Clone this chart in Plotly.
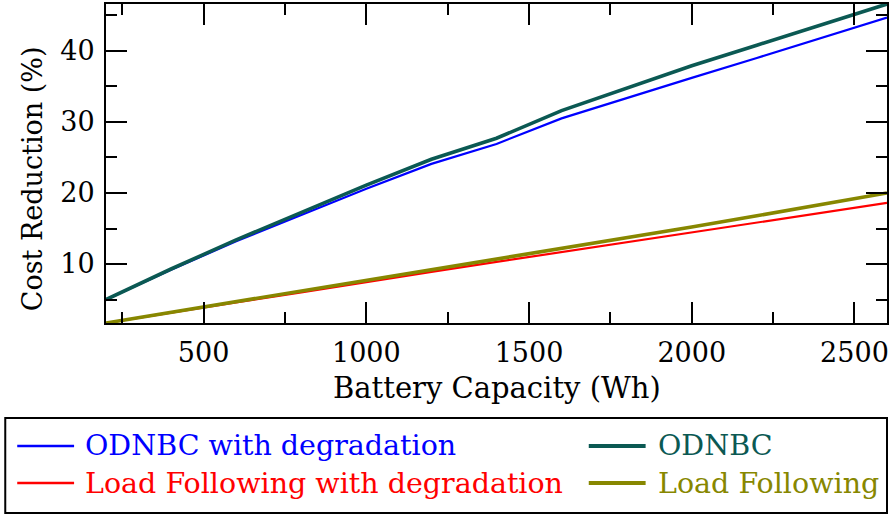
import plotly.graph_objects as go

# Battery capacity sweep (Wh)
capacity = [200, 400, 600, 800, 1000, 1200, 1400, 1600, 1800, 2000, 2200, 2400, 2600]

# Cost reduction (%) for each strategy
odnbc_deg = [5.0, 9.2, 13.2, 16.9, 20.6, 24.1, 26.9, 30.5, 33.4, 36.2, 39.0, 41.9, 44.7]
odnbc = [5.0, 9.3, 13.4, 17.3, 21.1, 24.75, 27.7, 31.6, 34.8, 37.9, 40.8, 43.7, 46.6]
lf_deg = [1.7, 3.2, 4.6, 6.0, 7.5, 8.9, 10.3, 11.7, 13.0, 14.4, 15.8, 17.2, 18.6]
lf = [1.7, 3.2, 4.7, 6.1, 7.7, 9.2, 10.7, 12.2, 13.7, 15.2, 16.8, 18.4, 20.0]

names = ["ODNBC with degradation", "ODNBC",
         "Load Following with degradation", "Load Following"]
series = [odnbc_deg, odnbc, lf_deg, lf]
colors = ["#0000ff", "#0b5953", "#ff0000", "#878700"]
widths = [2.2, 3.6, 2.2, 3.6]

W, H = 890, 514
L, R, T, B = 106, 889, 4, 323  # plot area in pixels
FONT = "DejaVu Serif"
FS_TICK, FS_XT, FS_YT, FS_LEG = 27, 29, 27, 28.5


def px_x(px):
    return (px - L) / (R - L)


def px_y(py):
    return (B - py) / (B - T)


fig = go.Figure()
for name, ys, c, w in zip(names, series, colors, widths):
    fig.add_trace(go.Scatter(x=capacity, y=ys, mode="lines", name=name,
                             line=dict(color=c, width=w), showlegend=False))

ymin = min(min(s) for s in series)
ymax = max(max(s) for s in series)

axis_common = dict(
    showgrid=False, zeroline=False, showline=True, linecolor="black",
    linewidth=2, mirror="allticks", ticks="inside", ticklen=21, tickwidth=2,
    tickcolor="black", tickfont=dict(family=FONT, size=FS_TICK, color="black"),
)

fig.update_xaxes(range=[min(capacity), max(capacity)], tickmode="array",
                 tickvals=[500, 1000, 1500, 2000, 2500], ticklabelstandoff=5,
                 minor=dict(ticks="inside", ticklen=11, tickwidth=2,
                            tickcolor="black", dtick=250, tick0=0),
                 **axis_common)
fig.update_yaxes(range=[ymin, ymax], tickmode="array",
                 tickvals=[10, 20, 30, 40], ticklabelstandoff=4,
                 minor=dict(ticks="inside", ticklen=11, tickwidth=2,
                            tickcolor="black", dtick=5, tick0=0),
                 **axis_common)

annotations = [
    dict(x=px_x((L + R) / 2), y=px_y(388), xref="paper", yref="paper",
         text="Battery Capacity (Wh)", showarrow=False, xanchor="center",
         yanchor="middle", font=dict(family=FONT, size=FS_XT, color="black")),
    dict(x=px_x(32), y=px_y(179), xref="paper", yref="paper",
         text="Cost Reduction (%)", showarrow=False, textangle=-90,
         xanchor="center", yanchor="middle",
         font=dict(family=FONT, size=FS_YT, color="black")),
]

shapes = [
    dict(type="rect", xref="paper", yref="paper", x0=px_x(5), x1=px_x(889),
         y0=px_y(418), y1=px_y(513), line=dict(color="black", width=2),
         fillcolor="rgba(0,0,0,0)", layer="above"),
]

# legend entries: (sample line start, text start, row centre)
legend_pos = [(17, 83, 446), (590, 657, 446), (17, 83, 483), (590, 657, 483)]
for (lx, tx, ry), name, c, w in zip(legend_pos, names, colors, widths):
    shapes.append(dict(type="line", xref="paper", yref="paper",
                       x0=px_x(lx), x1=px_x(lx + 57), y0=px_y(ry), y1=px_y(ry),
                       line=dict(color=c, width=w + 0.4)))
    annotations.append(dict(x=px_x(tx), y=px_y(ry), xref="paper", yref="paper",
                            text=name, showarrow=False, xanchor="left",
                            yanchor="middle",
                            font=dict(family=FONT, size=FS_LEG, color=c)))

fig.update_layout(
    width=W, height=H, margin=dict(l=L, r=W - R, t=T, b=H - B),
    plot_bgcolor="white", paper_bgcolor="white",
    annotations=annotations, shapes=shapes, showlegend=False,
)

fig.write_html("out.html")
